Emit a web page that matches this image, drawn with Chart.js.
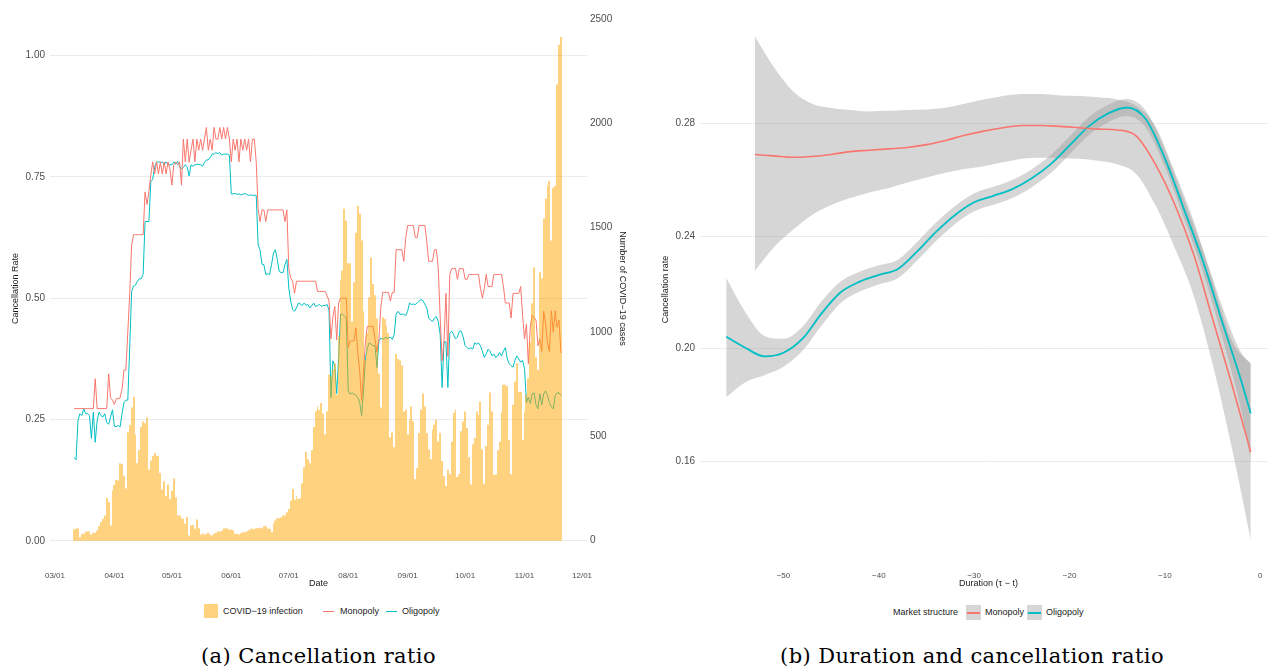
<!DOCTYPE html>
<html>
<head>
<meta charset="utf-8">
<script src="https://cdn.jsdelivr.net/npm/chart.js"></script>
<style>
  html, body { margin: 0; padding: 0; background: #fff; }
  body { position: relative; width: 1267px; height: 669px; overflow: hidden; font-family: 'Liberation Sans', Arial, sans-serif; }
  canvas { position: absolute; top: 0; }
  #covidChart { left: 0; }
  #durationChart { left: 640px; }
  .key { position: absolute; font-size: 9px; line-height: 11px; color: #1a1a1a; white-space: nowrap; }
  .swatch { position: absolute; }
  .caption { position: absolute; top: 644px; text-align: center; font-family: 'DejaVu Serif', serif; font-size: 21px; letter-spacing: 0.4px; color: #000; }
</style>
</head>
<body>
<canvas id="covidChart" width="637" height="600"></canvas>
<canvas id="durationChart" width="640" height="600"></canvas>

<!-- legend (a) -->
<div class="swatch" style="left:204px;top:604px;width:14px;height:14px;background:rgba(255,165,0,0.5)"></div>
<div class="key" style="left:223px;top:606px">COVID−19 infection</div>
<div class="swatch" style="left:323px;top:611px;width:11px;height:1.2px;background:#F8766D"></div>
<div class="key" style="left:340px;top:606px">Monopoly</div>
<div class="swatch" style="left:386px;top:611px;width:11px;height:1.2px;background:#00BFC4"></div>
<div class="key" style="left:402px;top:606px">Oligopoly</div>

<!-- legend (b) -->
<div class="key" style="left:893px;top:607px">Market structure</div>
<div class="swatch" style="left:966px;top:605px;width:15px;height:15px;background:rgba(153,153,153,0.4)"></div>
<div class="swatch" style="left:967px;top:612px;width:13px;height:1.5px;background:#F8766D"></div>
<div class="key" style="left:985px;top:607px">Monopoly</div>
<div class="swatch" style="left:1027px;top:605px;width:15px;height:15px;background:rgba(153,153,153,0.4)"></div>
<div class="swatch" style="left:1028px;top:612px;width:13px;height:1.5px;background:#00BFC4"></div>
<div class="key" style="left:1046px;top:607px">Oligopoly</div>

<div class="caption" style="left:0;width:637px">(a) Cancellation ratio</div>
<div class="caption" style="left:640px;width:664px">(b) Duration and cancellation ratio</div>

<script>
// ---------- panel (a): daily series, first value is 03/11 (day 10 after 03/01) ----------
const firstDay = 10;
const monthTicks = [0, 31, 61, 92, 122, 153, 184, 214, 245, 275];
const monthLabels = ['03/01', '04/01', '05/01', '06/01', '07/01', '08/01', '09/01', '10/01', '11/01', '12/01'];
const rateTicks = [0, 0.25, 0.5, 0.75, 1];
const caseTicks = [0, 500, 1000, 1500, 2000, 2500];

const covidCases = [
  54, 57, 60, 17, 33, 33, 44, 44, 44, 29,
  38, 38, 49, 70, 89, 105, 121, 203, 184, 73,
  240, 267, 290, 290, 371, 367, 311, 250, 520, 555,
  638, 690, 508, 371, 435, 546, 571, 563, 590, 340,
  385, 406, 419, 406, 406, 325, 245, 285, 214, 270,
  200, 240, 298, 208, 121, 121, 108, 105, 81, 113,
  25, 73, 76, 57, 102, 60, 30, 35, 28, 32,
  40, 30, 25, 33, 38, 44, 44, 48, 60, 60,
  58, 54, 54, 50, 33, 33, 30, 36, 41, 41,
  45, 50, 57, 57, 55, 60, 60, 62, 60, 70,
  70, 57, 57, 41, 81, 97, 108, 108, 111, 121,
  121, 137, 152, 192, 248, 197, 216, 200, 203, 275,
  352, 425, 390, 371, 435, 545, 620, 645, 628, 660,
  610, 510, 620, 795, 787, 820, 850, 700, 978, 1248,
  1295, 1590, 1533, 1329, 1329, 1050, 1238, 1476, 1605, 1567,
  1438, 1100, 867, 995, 1167, 1357, 1230, 1176, 1065, 800,
  638, 1071, 1062, 1030, 995, 495, 519, 448, 895, 871,
  863, 840, 619, 627, 508, 580, 643, 572, 295, 348,
  516, 627, 706, 643, 516, 437, 390, 532, 556, 580,
  476, 516, 382, 310, 262, 340, 319, 476, 614, 629,
  305, 318, 524, 571, 619, 540, 400, 270, 462, 492,
  619, 603, 667, 438, 273, 454, 556, 710, 619, 316,
  316, 433, 476, 614, 747, 747, 740, 484, 319, 651,
  762, 850, 714, 714, 484, 619, 700, 778, 950, 1138,
  1310, 880, 818, 1286, 1257, 1543, 1638, 1700, 1724, 1438,
  1690, 1700, 2186, 2376, 2414
];

const monopolyRate = [
  0.2725, 0.2725, 0.2725, 0.2725, 0.2725, 0.2725, 0.2725, 0.2725, 0.2725, 0.2725,
  0.2725, 0.334, 0.2725, 0.2725, 0.2725, 0.2725, 0.2725, 0.2725, 0.344, 0.295,
  0.29, 0.281, 0.293, 0.293, 0.295, 0.313, 0.352, 0.352, 0.43, 0.51,
  0.61, 0.631, 0.631, 0.631, 0.631, 0.631, 0.631, 0.719, 0.693, 0.72,
  0.754, 0.781, 0.756, 0.781, 0.756, 0.781, 0.756, 0.781, 0.756, 0.781,
  0.765, 0.733, 0.775, 0.781, 0.775, 0.781, 0.733, 0.828, 0.781, 0.828,
  0.78, 0.805, 0.828, 0.781, 0.828, 0.805, 0.828, 0.805, 0.828, 0.852,
  0.805, 0.828, 0.805, 0.852, 0.828, 0.828, 0.852, 0.828, 0.852, 0.828,
  0.852, 0.828, 0.781, 0.828, 0.805, 0.828, 0.781, 0.828, 0.805, 0.828,
  0.805, 0.828, 0.781, 0.828, 0.828, 0.781, 0.684, 0.658, 0.682, 0.682,
  0.658, 0.682, 0.682, 0.682, 0.682, 0.682, 0.682, 0.682, 0.682, 0.682,
  0.658, 0.682, 0.561, 0.541, 0.535, 0.51, 0.535, 0.535, 0.535, 0.535,
  0.535, 0.535, 0.535, 0.535, 0.535, 0.535, 0.535, 0.514, 0.514, 0.514,
  0.514, 0.514, 0.505, 0.494, 0.416, 0.46, 0.483, 0.414, 0.49, 0.5,
  0.5, 0.5, 0.5, 0.398, 0.412, 0.412, 0.412, 0.439, 0.389, 0.35,
  0.289, 0.35, 0.412, 0.442, 0.442, 0.442, 0.442, 0.414, 0.389, 0.414,
  0.48, 0.512, 0.512, 0.512, 0.512, 0.494, 0.512, 0.512, 0.6, 0.6,
  0.6, 0.6, 0.576, 0.623, 0.65, 0.65, 0.65, 0.65, 0.625, 0.625,
  0.65, 0.65, 0.65, 0.65, 0.617, 0.576, 0.576, 0.576, 0.6, 0.6,
  0.562, 0.459, 0.371, 0.412, 0.51, 0.38, 0.549, 0.561, 0.561, 0.561,
  0.539, 0.561, 0.561, 0.561, 0.539, 0.539, 0.549, 0.549, 0.549, 0.549,
  0.549, 0.549, 0.52, 0.5, 0.52, 0.549, 0.524, 0.524, 0.524, 0.549,
  0.549, 0.549, 0.549, 0.549, 0.524, 0.49, 0.49, 0.49, 0.459, 0.51,
  0.51, 0.51, 0.51, 0.524, 0.465, 0.416, 0.447, 0.365, 0.44, 0.465,
  0.46, 0.455, 0.402, 0.416, 0.39, 0.473, 0.447, 0.408, 0.39, 0.474,
  0.43, 0.474, 0.44, 0.455, 0.387
];

const oligopolyRate = [
  0.172, 0.167, 0.248, 0.262, 0.258, 0.272, 0.262, 0.262, 0.258, 0.211,
  0.265, 0.203, 0.248, 0.265, 0.258, 0.255, 0.262, 0.244, 0.24, 0.255,
  0.27, 0.236, 0.235, 0.238, 0.235, 0.262, 0.285, 0.29, 0.29, 0.40,
  0.514, 0.525, 0.527, 0.535, 0.54, 0.54, 0.549, 0.658, 0.658, 0.658,
  0.74, 0.745, 0.77, 0.781, 0.781, 0.78, 0.781, 0.775, 0.781, 0.776,
  0.775, 0.775, 0.781, 0.776, 0.782, 0.772, 0.766, 0.77, 0.775, 0.77,
  0.752, 0.775, 0.772, 0.775, 0.776, 0.776, 0.775, 0.772, 0.78, 0.785,
  0.785, 0.79, 0.797, 0.797, 0.8, 0.798, 0.8, 0.795, 0.797, 0.797,
  0.797, 0.795, 0.715, 0.715, 0.716, 0.714, 0.715, 0.713, 0.714, 0.716,
  0.714, 0.712, 0.713, 0.712, 0.712, 0.712, 0.61, 0.6, 0.57, 0.569,
  0.549, 0.55, 0.549, 0.569, 0.593, 0.6, 0.58, 0.555, 0.553, 0.553,
  0.569, 0.58, 0.521, 0.494, 0.477, 0.473, 0.48, 0.49, 0.488, 0.485,
  0.49, 0.485, 0.487, 0.48, 0.485, 0.49, 0.483, 0.485, 0.487, 0.483,
  0.485, 0.485, 0.487, 0.475, 0.295, 0.371, 0.36, 0.303, 0.377, 0.467,
  0.467, 0.463, 0.46, 0.309, 0.302, 0.305, 0.302, 0.3, 0.295, 0.285,
  0.258, 0.309, 0.377, 0.398, 0.408, 0.405, 0.402, 0.402, 0.357, 0.412,
  0.418, 0.415, 0.418, 0.418, 0.418, 0.42, 0.415, 0.425, 0.467, 0.473,
  0.467, 0.467, 0.467, 0.464, 0.473, 0.49, 0.487, 0.488, 0.487, 0.49,
  0.494, 0.497, 0.495, 0.487, 0.48, 0.459, 0.455, 0.452, 0.459, 0.462,
  0.452, 0.425, 0.316, 0.41, 0.41, 0.316, 0.428, 0.432, 0.425, 0.416,
  0.42, 0.432, 0.432, 0.42, 0.402, 0.398, 0.395, 0.398, 0.395, 0.408,
  0.405, 0.408, 0.402, 0.391, 0.378, 0.385, 0.395, 0.391, 0.381, 0.385,
  0.378, 0.381, 0.388, 0.381, 0.391, 0.398, 0.375, 0.365, 0.361, 0.358,
  0.372, 0.381, 0.375, 0.368, 0.372, 0.355, 0.285, 0.296, 0.283, 0.303,
  0.305, 0.28, 0.272, 0.303, 0.28, 0.303, 0.309, 0.299, 0.285, 0.276,
  0.272, 0.299, 0.305, 0.305, 0.299
];

// ---------- panel (b): smoothed fits with confidence bands ----------
const durationTicks = [-50, -40, -30, -20, -10, 0];
const smoothTicks = [0.16, 0.20, 0.24, 0.28];

const monoDuration = [-53, -51, -49, -47, -45, -43, -41, -39, -37, -35, -33, -31, -29, -27, -25, -23, -21, -19, -17, -15, -13, -11, -9, -7, -5, -3, -1];
const monoFit = [0.269, 0.2685, 0.268, 0.2683, 0.269, 0.270, 0.2705, 0.271, 0.2715, 0.2725, 0.274, 0.2758, 0.2773, 0.2785, 0.2793, 0.2793, 0.279, 0.2785, 0.278, 0.2777, 0.2755, 0.2655, 0.2515, 0.2336, 0.2105, 0.1875, 0.1632];
const monoUpper = [0.311, 0.300, 0.2915, 0.2870, 0.2855, 0.2848, 0.2843, 0.2845, 0.2848, 0.285, 0.2856, 0.287, 0.2885, 0.2898, 0.2905, 0.2905, 0.29, 0.2898, 0.2893, 0.2885, 0.2862, 0.279, 0.263, 0.2455, 0.224, 0.203, 0.1945];
const monoLower = [0.2276, 0.236, 0.2422, 0.2475, 0.251, 0.2535, 0.2555, 0.257, 0.259, 0.2608, 0.2625, 0.2638, 0.2648, 0.2662, 0.2675, 0.2678, 0.2677, 0.2675, 0.2668, 0.2655, 0.262, 0.251, 0.236, 0.219, 0.1945, 0.165, 0.132];

const oliDuration = [-56, -54, -52, -50, -48, -46, -44, -42, -40, -38, -36, -34, -32, -30, -28, -26, -24, -22, -20, -18, -16, -14, -12, -10, -8, -6, -4, -2, -1];
const oliFit = [0.2042, 0.2003, 0.1972, 0.1985, 0.2035, 0.2125, 0.22, 0.2238, 0.2262, 0.2283, 0.2345, 0.2415, 0.2475, 0.252, 0.2543, 0.2567, 0.2605, 0.2655, 0.2722, 0.279, 0.2835, 0.2857, 0.2815, 0.2675, 0.2495, 0.231, 0.2095, 0.1885, 0.177];
const oliUpper = [0.2251, 0.213, 0.2045, 0.2035, 0.2078, 0.2168, 0.2238, 0.2273, 0.2296, 0.2316, 0.2378, 0.2448, 0.2507, 0.2552, 0.2575, 0.2599, 0.2637, 0.2687, 0.2754, 0.2822, 0.2866, 0.2887, 0.2845, 0.2705, 0.2528, 0.235, 0.215, 0.1985, 0.1947];
const oliLower = [0.1827, 0.188, 0.1905, 0.1935, 0.1992, 0.2082, 0.2162, 0.2203, 0.2228, 0.225, 0.2312, 0.2382, 0.2443, 0.2488, 0.2511, 0.2535, 0.2573, 0.2623, 0.269, 0.2758, 0.2804, 0.2827, 0.2785, 0.2645, 0.2462, 0.227, 0.204, 0.178, 0.16];

const RED = '#F8766D';
const TEAL = '#00BFC4';
const BAND = 'rgba(153,153,153,0.4)';
const GRID = '#ebebeb';
const TICK = '#4d4d4d';
const TITLE = '#1a1a1a';

Chart.defaults.font.family = "'Liberation Sans', Arial, sans-serif";

const byDay = arr => arr.map((v, i) => ({ x: firstDay + i, y: v }));
const pair = (xs, ys) => xs.map((x, i) => ({ x: x, y: ys[i] }));
const fixedTicks = list => scale => { scale.ticks = list.map(v => ({ value: v })); };

// daily bars are ~1.9px wide: snap their edges to whole pixels so they butt without seams
const snapBars = {
    id: 'snapBars',
    afterDatasetUpdate(chart, args) {
        if (args.meta.type !== 'bar') return;
        let prevRight = null;
        args.meta.data.forEach(bar => {
            const l = prevRight === null ? Math.round(bar.x - bar.width / 2) : prevRight;
            const r = Math.max(l + 1, Math.round(bar.x + bar.width / 2));
            bar.x = (l + r) / 2;
            bar.width = r - l;
            prevRight = r;
        });
    }
};

// panel (a)
new Chart(document.getElementById('covidChart'), {
    type: 'bar',
    data: {
        datasets: [
            {
                type: 'bar',
                label: 'COVID−19 infection',
                data: byDay(covidCases),
                yAxisID: 'y1',
                backgroundColor: 'rgba(255,165,0,0.5)',
                borderWidth: 0,
                barPercentage: 1,
                categoryPercentage: 1,
                inflateAmount: 0,
                order: 0
            },
            {
                type: 'line',
                label: 'Monopoly',
                data: byDay(monopolyRate),
                yAxisID: 'y',
                borderColor: RED,
                borderWidth: 1,
                pointRadius: 0,
                tension: 0,
                order: 1
            },
            {
                type: 'line',
                label: 'Oligopoly',
                data: byDay(oligopolyRate),
                yAxisID: 'y',
                borderColor: TEAL,
                borderWidth: 1,
                pointRadius: 0,
                tension: 0,
                order: 2
            }
        ]
    },
    plugins: [snapBars],
    options: {
        responsive: false,
        animation: false,
        layout: { padding: { top: 8, bottom: 3, left: 0, right: 0 } },
        plugins: { legend: { display: false }, tooltip: { enabled: false } },
        scales: {
            x: {
                type: 'linear',
                min: -2.6,
                max: 277.6,
                offset: false,
                grid: { display: false, drawTicks: false },
                border: { display: false },
                afterBuildTicks: fixedTicks(monthTicks),
                ticks: {
                    autoSkip: false,
                    maxRotation: 0,
                    padding: 5,
                    font: { size: 8 },
                    color: TICK,
                    callback: (v, i) => monthLabels[i]
                },
                title: { display: true, text: 'Date', font: { size: 9 }, color: TITLE, padding: { top: 0, bottom: 8 } },
                afterFit: s => { s.height = 31; }
            },
            y: {
                type: 'linear',
                position: 'left',
                min: -0.052,
                max: 1.092,
                afterBuildTicks: fixedTicks(rateTicks),
                ticks: { padding: 5, font: { size: 10 }, color: TICK, callback: v => v.toFixed(2) },
                grid: { color: GRID, lineWidth: 1, drawTicks: false },
                border: { display: false },
                title: { display: true, text: 'Cancellation Rate', font: { size: 9 }, color: TITLE, padding: { top: 10 } },
                afterFit: s => { s.width = 50; }
            },
            y1: {
                type: 'linear',
                position: 'right',
                min: -121,
                max: 2538,
                afterBuildTicks: fixedTicks(caseTicks),
                ticks: { padding: 3, font: { size: 10 }, color: TICK, callback: v => String(v) },
                grid: { display: false, drawTicks: false },
                border: { display: false },
                title: { display: true, text: 'Number of COVID−19 cases', font: { size: 9 }, color: TITLE, padding: { top: 9 } },
                afterFit: s => { s.width = 50; }
            }
        }
    }
});

// panel (b)
const lineStyle = { pointRadius: 0, cubicInterpolationMode: 'monotone' };
new Chart(document.getElementById('durationChart'), {
    type: 'line',
    data: {
        datasets: [
            Object.assign({ label: 'Monopoly', data: pair(monoDuration, monoFit), borderColor: RED, borderWidth: 1.6, fill: false, order: 0 }, lineStyle),
            Object.assign({ label: 'Oligopoly', data: pair(oliDuration, oliFit), borderColor: TEAL, borderWidth: 1.8, fill: false, order: 0 }, lineStyle),
            Object.assign({ label: 'Monopoly upper', data: pair(monoDuration, monoUpper), borderWidth: 0, borderColor: 'rgba(0,0,0,0)', fill: false, order: 1 }, lineStyle),
            Object.assign({ label: 'Monopoly lower', data: pair(monoDuration, monoLower), borderWidth: 0, borderColor: 'rgba(0,0,0,0)', backgroundColor: BAND, fill: '-1', order: 1 }, lineStyle),
            Object.assign({ label: 'Oligopoly upper', data: pair(oliDuration, oliUpper), borderWidth: 0, borderColor: 'rgba(0,0,0,0)', fill: false, order: 1 }, lineStyle),
            Object.assign({ label: 'Oligopoly lower', data: pair(oliDuration, oliLower), borderWidth: 0, borderColor: 'rgba(0,0,0,0)', backgroundColor: BAND, fill: '-1', order: 1 }, lineStyle)
        ]
    },
    options: {
        responsive: false,
        animation: false,
        layout: { padding: { top: 9, bottom: 3, left: 0, right: 3 } },
        plugins: { legend: { display: false }, tooltip: { enabled: false } },
        scales: {
            x: {
                type: 'linear',
                min: -58.75,
                max: 1.75,
                grid: { display: false, drawTicks: false },
                border: { display: false },
                afterBuildTicks: fixedTicks(durationTicks),
                ticks: {
                    autoSkip: false,
                    maxRotation: 0,
                    padding: 3,
                    font: { size: 8 },
                    color: TICK,
                    callback: v => (v < 0 ? '−' + Math.abs(v) : String(v))
                },
                title: { display: true, text: 'Duration (τ − t)', font: { size: 9 }, color: TITLE, padding: { top: 0, bottom: 8 } },
                afterFit: s => { s.height = 29; }
            },
            y: {
                type: 'linear',
                min: 0.122,
                max: 0.320,
                afterBuildTicks: fixedTicks(smoothTicks),
                ticks: { padding: 5, font: { size: 10 }, color: TICK, callback: v => v.toFixed(2) },
                grid: { color: GRID, lineWidth: 1, drawTicks: false },
                border: { display: false },
                title: { display: true, text: 'Cancellation rate', font: { size: 9 }, color: TITLE, padding: { top: 20 } },
                afterFit: s => { s.width = 60; }
            }
        }
    }
});
</script>
</body>
</html>
